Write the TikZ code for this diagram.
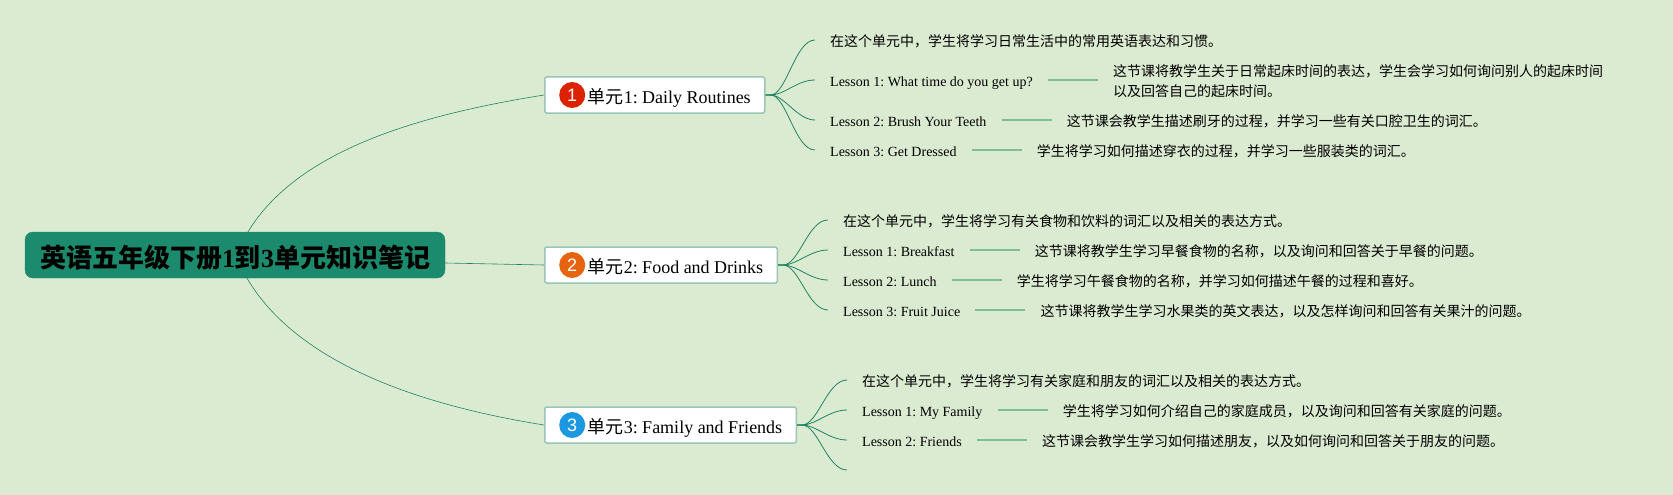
\documentclass[tikz,border=0pt]{standalone}
\usepackage{fontspec}
\usepackage{xcolor}
\usepackage{tikz}
\usetikzlibrary{positioning}
\setmainfont{Liberation Serif}
\setsansfont{Liberation Sans}
\newfontfamily\zhfont{Noto Sans CJK SC}
\definecolor{bgcolor}{RGB}{219,235,209}
\definecolor{rootcolor}{RGB}{28,138,108}
\definecolor{linkcolor}{RGB}{32,132,98}
\definecolor{stubcolor}{RGB}{125,190,150}
\definecolor{edgecolor}{RGB}{155,197,180}
\definecolor{iconred}{RGB}{221,34,0}
\definecolor{iconorange}{RGB}{230,100,16}
\definecolor{iconblue}{RGB}{27,152,224}
\frenchspacing

\begin{document}
\begin{tikzpicture}[
    x=1pt, y=-1pt,
    root/.style={rectangle, fill=rootcolor, draw=rootcolor, minimum width=420pt, minimum height=46pt, inner sep=0pt, text height=25pt, text depth=0pt, rounded corners=8pt, font=\fontsize{26}{30}\selectfont\bfseries},
    unit/.style={rectangle, draw=edgecolor, fill=white, line width=1.5pt, minimum height=36pt, inner xsep=0pt, inner ysep=0pt, text height=16pt, text depth=0pt, rounded corners=2pt, anchor=west, font=\fontsize{18}{22}\selectfont, execute at begin node=\hspace*{43pt}, execute at end node=\hspace*{14pt}},
    icon/.style={circle, fill=#1, minimum size=26pt, inner sep=0pt, text=white, font=\sffamily\fontsize{18}{20}\selectfont},
    lesson/.style={anchor=west, inner xsep=15pt, inner ysep=0pt, text height=13pt, text depth=0pt, font=\fontsize{14}{20}\selectfont},
    note/.style={anchor=west, inner xsep=15pt, inner ysep=0pt, text height=13pt, text depth=0pt, font=\zhfont\fontsize{14}{20}\selectfont},
    longnote/.style={anchor=west, inner xsep=15pt, inner ysep=0pt, align=left, font=\zhfont\fontsize{14}{20}\selectfont},
    branch/.style={draw=linkcolor, line width=0.8pt},
    stub/.style={draw=stubcolor, line width=1.2pt},
    trunk/.style={draw=linkcolor, line width=0.6pt}
]
\fill[bgcolor] (0,0) rectangle (1673,495);
\useasboundingbox (0,0) rectangle (1673,495);

% Root
\node[root] (root) at (235,255) {{\zhfont 英语五年级下册}1{\zhfont 到}3{\zhfont 单元知识笔记}};

% Unit 1
\node[unit] (u1) at (544,95) {{\zhfont 单元}1: Daily Routines};
\node[icon=iconred, right=15pt of u1.west] (i1) {1};
\node[note] (u1o) at (815,40) {在这个单元中，学生将学习日常生活中的常用英语表达和习惯。};
\node[lesson] (u1a) at (815,80) {Lesson 1: What time do you get up?};
\node[longnote, right=50pt of u1a] (u1an) {\rule{0pt}{15pt}这节课将教学生关于日常起床时间的表达，学生会学习如何询问别人的起床时间\\以及回答自己的起床时间。};
\node[lesson] (u1b) at (815,120) {Lesson 2: Brush Your Teeth};
\node[note, right=50pt of u1b] (u1bn) {这节课会教学生描述刷牙的过程，并学习一些有关口腔卫生的词汇。};
\node[lesson] (u1c) at (815,150) {Lesson 3: Get Dressed};
\node[note, right=50pt of u1c] (u1cn) {学生将学习如何描述穿衣的过程，并学习一些服装类的词汇。};

% Unit 2
\node[unit] (u2) at (544,265) {{\zhfont 单元}2: Food and Drinks};
\node[icon=iconorange, right=15pt of u2.west] (i2) {2};
\node[note] (u2o) at (828,220) {在这个单元中，学生将学习有关食物和饮料的词汇以及相关的表达方式。};
\node[lesson] (u2a) at (828,250) {Lesson 1: Breakfast};
\node[note, right=50pt of u2a] (u2an) {这节课将教学生学习早餐食物的名称，以及询问和回答关于早餐的问题。};
\node[lesson] (u2b) at (828,280) {Lesson 2: Lunch};
\node[note, right=50pt of u2b] (u2bn) {学生将学习午餐食物的名称，并学习如何描述午餐的过程和喜好。};
\node[lesson] (u2c) at (828,310) {Lesson 3: Fruit Juice};
\node[note, right=50pt of u2c] (u2cn) {这节课将教学生学习水果类的英文表达，以及怎样询问和回答有关果汁的问题。};

% Unit 3
\node[unit] (u3) at (544,425) {{\zhfont 单元}3: Family and Friends};
\node[icon=iconblue, right=15pt of u3.west] (i3) {3};
\node[note] (u3o) at (847,380) {在这个单元中，学生将学习有关家庭和朋友的词汇以及相关的表达方式。};
\node[lesson] (u3a) at (847,410) {Lesson 1: My Family};
\node[note, right=50pt of u3a] (u3an) {学生将学习如何介绍自己的家庭成员，以及询问和回答有关家庭的问题。};
\node[lesson] (u3b) at (847,440) {Lesson 2: Friends};
\node[note, right=50pt of u3b] (u3bn) {这节课会教学生学习如何描述朋友，以及如何询问和回答关于朋友的问题。};
\coordinate (u3e) at (847,470);

% Trunks
\draw[trunk] ([xshift=13pt]root.north) .. controls +(50,-82) and +(-125,20) .. (u1.west);
\draw[trunk] ([yshift=-8pt]root.east) -- (u2.west);
\draw[trunk] ([xshift=12pt]root.south) .. controls +(50,85) and +(-125,-20) .. (u3.west);

% Branches
\draw[branch] (u1.east) -- ++(5,0) .. controls +(16,0) and +(-20,0) .. (u1o.west);
\draw[branch] (u1.east) -- ++(5,0) .. controls +(14,0) and +(-18,0) .. (u1a.west);
\draw[branch] (u1.east) -- ++(5,0) .. controls +(14,0) and +(-18,0) .. (u1b.west);
\draw[branch] (u1.east) -- ++(5,0) .. controls +(16,0) and +(-20,0) .. (u1c.west);
\draw[branch] (u2.east) -- ++(5,0) .. controls +(16,0) and +(-20,0) .. (u2o.west);
\draw[branch] (u2.east) -- ++(5,0) .. controls +(14,0) and +(-18,0) .. (u2a.west);
\draw[branch] (u2.east) -- ++(5,0) .. controls +(14,0) and +(-18,0) .. (u2b.west);
\draw[branch] (u2.east) -- ++(5,0) .. controls +(16,0) and +(-20,0) .. (u2c.west);
\draw[branch] (u3.east) -- ++(5,0) .. controls +(16,0) and +(-20,0) .. (u3o.west);
\draw[branch] (u3.east) -- ++(5,0) .. controls +(14,0) and +(-18,0) .. (u3a.west);
\draw[branch] (u3.east) -- ++(5,0) .. controls +(14,0) and +(-18,0) .. (u3b.west);
\draw[branch] (u3.east) -- ++(5,0) .. controls +(16,0) and +(-20,0) .. (u3e);

% Lesson stubs
\draw[stub] (u1a) -- (u1an);
\draw[stub] (u1b) -- (u1bn);
\draw[stub] (u1c) -- (u1cn);
\draw[stub] (u2a) -- (u2an);
\draw[stub] (u2b) -- (u2bn);
\draw[stub] (u2c) -- (u2cn);
\draw[stub] (u3a) -- (u3an);
\draw[stub] (u3b) -- (u3bn);
\end{tikzpicture}
\end{document}
